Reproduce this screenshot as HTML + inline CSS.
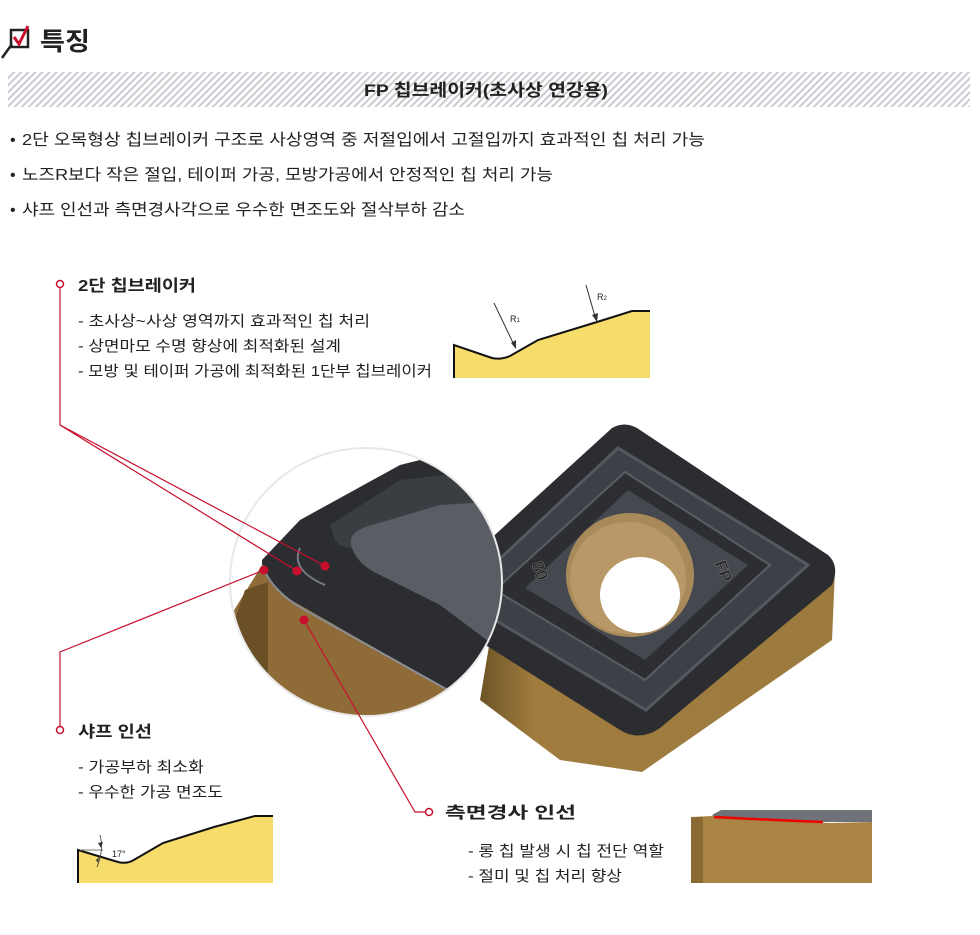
<!DOCTYPE html>
<html><head><meta charset="utf-8"><style>
html,body{margin:0;padding:0;background:#fff;}
svg{display:block;}
text{font-family:"Liberation Sans","Noto Sans CJK KR",sans-serif;fill:#222;}
</style></head><body>
<svg width="980" height="935" viewBox="0 0 980 935" xmlns="http://www.w3.org/2000/svg">
<defs>
<pattern id="hatch" width="5" height="5" patternUnits="userSpaceOnUse" patternTransform="rotate(45)">
<rect width="5" height="5" fill="#fff"/><rect width="2" height="5" fill="#c9ccd1"/>
</pattern>
<linearGradient id="gold" x1="0" y1="0" x2="1" y2="0">
<stop offset="0" stop-color="#6d5426"/><stop offset="0.15" stop-color="#a07c3e"/><stop offset="1" stop-color="#9c7a3e"/>
</linearGradient>
<clipPath id="circ"><ellipse cx="366" cy="582" rx="136" ry="134"/></clipPath>
</defs>

<!-- header -->
<path d="M2 58 L12 44" stroke="#222" stroke-width="2.5"/>
<rect x="11" y="30" width="17" height="17" fill="none" stroke="#222" stroke-width="2.5"/>
<path d="M14 37 L19 44 L28 26" stroke="#c8102e" stroke-width="3" fill="none"/>
<text x="40" y="50" font-size="25" font-weight="bold" textLength="50" lengthAdjust="spacingAndGlyphs">특징</text>

<rect x="8" y="72" width="962" height="35" fill="url(#hatch)"/>
<text x="364" y="96" font-size="17" font-weight="bold" textLength="244" lengthAdjust="spacingAndGlyphs">FP 칩브레이커(초사상 연강용)</text>

<text x="10" y="145" font-size="16">•</text>
<text x="22" y="145" font-size="16" textLength="683" lengthAdjust="spacingAndGlyphs">2단 오목형상 칩브레이커 구조로 사상영역 중 저절입에서 고절입까지 효과적인 칩 처리 가능</text>
<text x="10" y="180" font-size="16">•</text>
<text x="22" y="180" font-size="16" textLength="531" lengthAdjust="spacingAndGlyphs">노즈R보다 작은 절입, 테이퍼 가공, 모방가공에서 안정적인 칩 처리 가능</text>
<text x="10" y="215" font-size="16">•</text>
<text x="22" y="215" font-size="16" textLength="443" lengthAdjust="spacingAndGlyphs">샤프 인선과 측면경사각으로 우수한 면조도와 절삭부하 감소</text>

<!-- section 1 -->
<text x="78" y="291" font-size="16" font-weight="bold" textLength="118" lengthAdjust="spacingAndGlyphs">2단 칩브레이커</text>
<text x="78" y="326" font-size="15" fill="#333" textLength="292" lengthAdjust="spacingAndGlyphs">- 초사상~사상 영역까지 효과적인 칩 처리</text>
<text x="78" y="351" font-size="15" fill="#333" textLength="263" lengthAdjust="spacingAndGlyphs">- 상면마모 수명 향상에 최적화된 설계</text>
<text x="78" y="376" font-size="15" fill="#333" textLength="354" lengthAdjust="spacingAndGlyphs">- 모방 및 테이퍼 가공에 최적화된 1단부 칩브레이커</text>

<!-- profile 1 -->
<path d="M454 345 L492 358 Q500 360 510 356 L538 340 L597 322 L632 311 L650 311 L650 378 L454 378 Z" fill="#f6dc6a"/>
<path d="M454 378 L454 345 L492 358 Q500 360 510 356 L538 340 L597 322 L632 311 L650 311" fill="none" stroke="#111" stroke-width="2"/>
<path d="M494 303 L515 347" stroke="#333" stroke-width="1"/><path d="M511 343 L516 349 L516 340 Z" fill="#333"/>
<path d="M586 285 L596 320" stroke="#333" stroke-width="1"/><path d="M592 315 L597 322 L598 313 Z" fill="#333"/>
<text x="510" y="322" font-size="9" fill="#444">R<tspan font-size="6">1</tspan></text>
<text x="597" y="300" font-size="9" fill="#444">R<tspan font-size="6">2</tspan></text>

<!-- insert (main) -->
<path d="M835 570 L832 640 L642 772 L560 760 L480 700 L490 640 Z" fill="url(#gold)"/>
<path d="M612 428 Q626 420 640 430 L828 555 Q840 566 832 585 L660 728 Q640 742 620 730 L430 610 Q420 600 440 585 Z" fill="#2b2d31"/>
<path d="M618 448 L808 565 L646 710 L458 598 Z" fill="#3d4046" stroke="#55585e" stroke-width="3"/>
<path d="M625 472 L770 565 L645 680 L495 590 Z" fill="#2c2e32" stroke="#5a5d63" stroke-width="2"/>
<path d="M628 490 L748 565 L645 660 L525 588 Z" fill="#45484e"/>
<ellipse cx="630" cy="575" rx="64" ry="62" fill="#a88a5a"/>
<ellipse cx="628" cy="578" rx="58" ry="56" fill="#b89866"/>
<ellipse cx="640" cy="595" rx="40" ry="38" fill="#fff"/>
<text x="700" y="567" font-size="17" font-weight="bold" fill="#1d1e20" stroke="#777" stroke-width="0.6" transform="rotate(70 710 575)">FP</text>
<text x="520" y="570" font-size="17" font-weight="bold" fill="#1d1e20" stroke="#777" stroke-width="0.6" transform="rotate(70 530 575)">80</text>

<!-- magnifier circle -->
<g clip-path="url(#circ)">
<rect x="225" y="440" width="290" height="290" fill="#fff"/>
<path d="M262 560 L300 520 L400 465 L440 455 L520 450 L520 745 L262 745 Z" fill="#2b2d31"/>
<path d="M228 620 L262 565 Q268 590 300 605 L500 720 L500 745 L228 745 Z" fill="#8f6c37"/>
<path d="M228 640 L245 590 L268 582 L268 745 L228 745 Z" fill="#6a4f27"/>
<path d="M330 525 L400 480 L470 472 L520 480 L520 560 L480 555 L420 545 L370 550 Q340 550 335 540 Z" fill="#3a3d42"/>
<path d="M352 548 Q345 532 372 525 L440 505 L520 500 L520 660 L500 650 L440 605 L380 575 Q358 565 352 548 Z" fill="#5a5d63"/>
<path d="M262 565 Q272 592 305 610 L505 722" fill="none" stroke="#8a8d92" stroke-width="2"/>
<path d="M300 548 Q290 570 325 585" fill="none" stroke="#777a80" stroke-width="2"/>
</g>
<ellipse cx="366" cy="582" rx="136" ry="134" fill="none" stroke="#e8e8e8" stroke-width="2"/>

<!-- callout lines -->
<g stroke="#c8102e" stroke-width="1.2" fill="none">
<path d="M60 288 L60 425 L325 566"/>
<path d="M60 425 L297 571"/>
<path d="M60 726 L60 652 L264 570"/>
<path d="M304 620 L415 812 L425 812"/>
</g>
<g fill="#c8102e">
<circle cx="325" cy="566" r="4.5"/><circle cx="297" cy="571" r="4.5"/>
<circle cx="264" cy="570" r="4.5"/><circle cx="304" cy="620" r="4.5"/>
</g>
<g fill="#fff" stroke="#c8102e" stroke-width="1.5">
<circle cx="60" cy="284" r="3.5"/><circle cx="60" cy="730" r="3.5"/><circle cx="429" cy="812" r="3.5"/>
</g>

<!-- section 2 -->
<text x="78" y="737" font-size="16" font-weight="bold" textLength="74" lengthAdjust="spacingAndGlyphs">샤프 인선</text>
<text x="78" y="772" font-size="15" fill="#333" textLength="126" lengthAdjust="spacingAndGlyphs">- 가공부하 최소화</text>
<text x="78" y="797" font-size="15" fill="#333" textLength="145" lengthAdjust="spacingAndGlyphs">- 우수한 가공 면조도</text>

<path d="M78 850 L118 862 Q125 864 132 861 L163 843 L214 827 L255 816 L273 816 L273 883 L78 883 Z" fill="#f6dc6a"/>
<path d="M78 883 L78 850 L118 862 Q125 864 132 861 L163 843 L214 827 L255 816 L273 816" fill="none" stroke="#111" stroke-width="2"/>
<path d="M80 850 L103 850" stroke="#777" stroke-width="1"/>
<path d="M100 835 Q104 850 97 867" fill="none" stroke="#333" stroke-width="0.8"/>
<path d="M98 843 L101 848 L103 842 Z M96 860 L99 857 L98 863 Z" fill="#333"/>
<text x="112" y="857" font-size="9" fill="#444">17°</text>

<!-- section 3 -->
<text x="445" y="818" font-size="16" font-weight="bold" textLength="131" lengthAdjust="spacingAndGlyphs">측면경사 인선</text>
<text x="468" y="856" font-size="15" fill="#333" textLength="196" lengthAdjust="spacingAndGlyphs">- 롱 칩 발생 시 칩 전단 역할</text>
<text x="468" y="881" font-size="15" fill="#333" textLength="154" lengthAdjust="spacingAndGlyphs">- 절미 및 칩 처리 향상</text>

<path d="M712 815 L721 810 L872 810 L872 822 L720 822 Z" fill="#6f7278"/>
<path d="M691 817 L712 816 L760 820 L830 823 L872 822 L872 883 L691 883 Z" fill="#a98444"/>
<rect x="691" y="817" width="12" height="66" fill="#8a6a33"/>
<path d="M714 817 Q770 820 823 822" stroke="#e00" stroke-width="2.5" fill="none"/>
</svg>
</body></html>
